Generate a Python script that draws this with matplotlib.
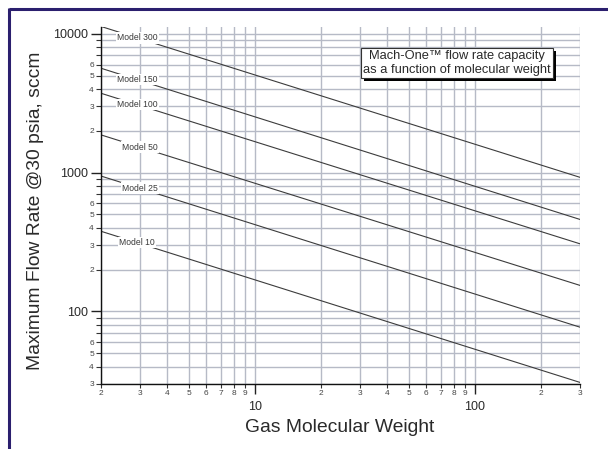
import numpy as np
import matplotlib
matplotlib.use("Agg")
import matplotlib.pyplot as plt
from matplotlib import patheffects
from matplotlib.ticker import FixedLocator, FixedFormatter
from matplotlib.lines import Line2D

plt.rcParams['font.family'] = ['Liberation Sans', 'DejaVu Sans']

# ---- data ----
mw_ends = [2, 300]
model_names = ["Model 300", "Model 150", "Model 100", "Model 50", "Model 25", "Model 10"]
flow_at_2 = [11300, 5650, 3730, 1870, 945, 378]
flow_at_300 = [925, 460, 307, 154, 77, 30.8]
label_x = [2.92, 2.92, 2.92, 3.0, 3.0, 2.92]

x_major = [10, 100]
x_major_labels = ["10", "100"]
x_minor = [2, 3, 4, 5, 6, 7, 8, 9, 20, 30, 40, 50, 60, 70, 80, 90, 200, 300]
x_minor_labels = ["2", "3", "4", "5", "6", "7", "8", "9",
                  "2", "3", "4", "5", "6", "7", "8", "9", "2", "3"]
y_major = [100, 1000, 10000]
y_major_labels = ["100", "1000", "10000"]
y_minor = [30, 40, 50, 60, 70, 80, 90, 200, 300, 400, 500, 600, 700, 800, 900,
           2000, 3000, 4000, 5000, 6000, 7000, 8000, 9000]
y_minor_labels = ["3", "4", "5", "6", "", "", "", "2", "3", "4", "5", "6", "", "", "",
                  "2", "3", "4", "5", "6", "", "", ""]

W, H = 608, 449
fig = plt.figure(figsize=(W / 100, H / 100), dpi=100)
ax = fig.add_axes([101 / W, 1 - 384 / H, (580 - 101) / W, (384 - 27) / H])
ax.set_xscale('log')
ax.set_yscale('log')
ax.set_xlim(2, 300)
ax.set_ylim(30, 11200)

grid_c = '#b6bac6'
for v in x_major + x_minor:
    ax.axvline(v, color=grid_c, lw=1.0, zorder=0)
for v in y_major + y_minor:
    ax.axhline(v, color=grid_c, lw=1.0, zorder=0)

for name, f2, f300, lx in zip(model_names, flow_at_2, flow_at_300, label_x):
    ax.plot(mw_ends, [f2, f300], color='#3c3c3c', lw=0.8, zorder=2)
    t = (np.log10(lx) - np.log10(mw_ends[0])) / (np.log10(mw_ends[1]) - np.log10(mw_ends[0]))
    ly = 10 ** (np.log10(f2) + t * (np.log10(f300) - np.log10(f2)))
    ax.text(lx, ly, name, fontsize=6.2, color='#3a3a3a', ha='center', va='center', zorder=3,
            bbox=dict(boxstyle='square,pad=0.15', fc='white', ec='none'))

ax.xaxis.set_major_locator(FixedLocator(x_major))
ax.xaxis.set_major_formatter(FixedFormatter(x_major_labels))
ax.xaxis.set_minor_locator(FixedLocator(x_minor))
ax.xaxis.set_minor_formatter(FixedFormatter(x_minor_labels))
ax.yaxis.set_major_locator(FixedLocator(y_major))
ax.yaxis.set_major_formatter(FixedFormatter(y_major_labels))
ax.yaxis.set_minor_locator(FixedLocator(y_minor))
ax.yaxis.set_minor_formatter(FixedFormatter(y_minor_labels))

ax.tick_params(axis='x', which='major', length=7.2, width=1.0, pad=5.0, labelsize=9,
               color='#222222', labelcolor='#2a2a2a')
ax.tick_params(axis='x', which='minor', length=3.0, width=0.8, pad=1.0, labelsize=6,
               color='#333333', labelcolor='#444444')
ax.tick_params(axis='y', which='major', length=7.5, width=1.0, pad=2.0, labelsize=9,
               color='#222222', labelcolor='#2a2a2a')
ax.tick_params(axis='y', which='minor', length=3.6, width=0.8, pad=1.5, labelsize=6,
               color='#333333', labelcolor='#444444')

for s in ['top', 'right']:
    ax.spines[s].set_visible(False)
for s in ['left', 'bottom']:
    ax.spines[s].set_color('#111111')
    ax.spines[s].set_linewidth(1.0)
    ax.spines[s].set_zorder(4)

fig.text(340 / W, 1 - 428 / H, "Gas Molecular Weight", fontsize=13.9, color='#2a2a2a',
         ha='center', va='center')
fig.text(36 / W, 1 - 211 / H, "Maximum Flow Rate @30 psia, sccm", fontsize=13.9, color='#2a2a2a',
         ha='center', va='center', rotation=90)

txt = ax.text(0.743, 0.899, "Mach-One\u2122 flow rate capacity\nas a function of molecular weight",
              transform=ax.transAxes, fontsize=9.3, color='#2a2a2a', ha='center', va='center',
              linespacing=1.15, zorder=5,
              bbox=dict(boxstyle='square,pad=0.2', fc='white', ec='#333333', lw=0.8))
txt.get_bbox_patch().set_path_effects([
    patheffects.withSimplePatchShadow(offset=(2.2, -2.2), shadow_rgbFace='black', alpha=1.0)])

frame_c = '#2b1f6e'
fig.add_artist(Line2D([8.5 / W, 1.0], [1 - 8.5 / H, 1 - 8.5 / H], color=frame_c, lw=2.2,
                      transform=fig.transFigure, solid_capstyle='butt'))
fig.add_artist(Line2D([8.5 / W, 8.5 / W], [0.0, 1 - 7.5 / H], color=frame_c, lw=2.2,
                      transform=fig.transFigure, solid_capstyle='butt'))

fig.savefig("out.png", dpi=100)
